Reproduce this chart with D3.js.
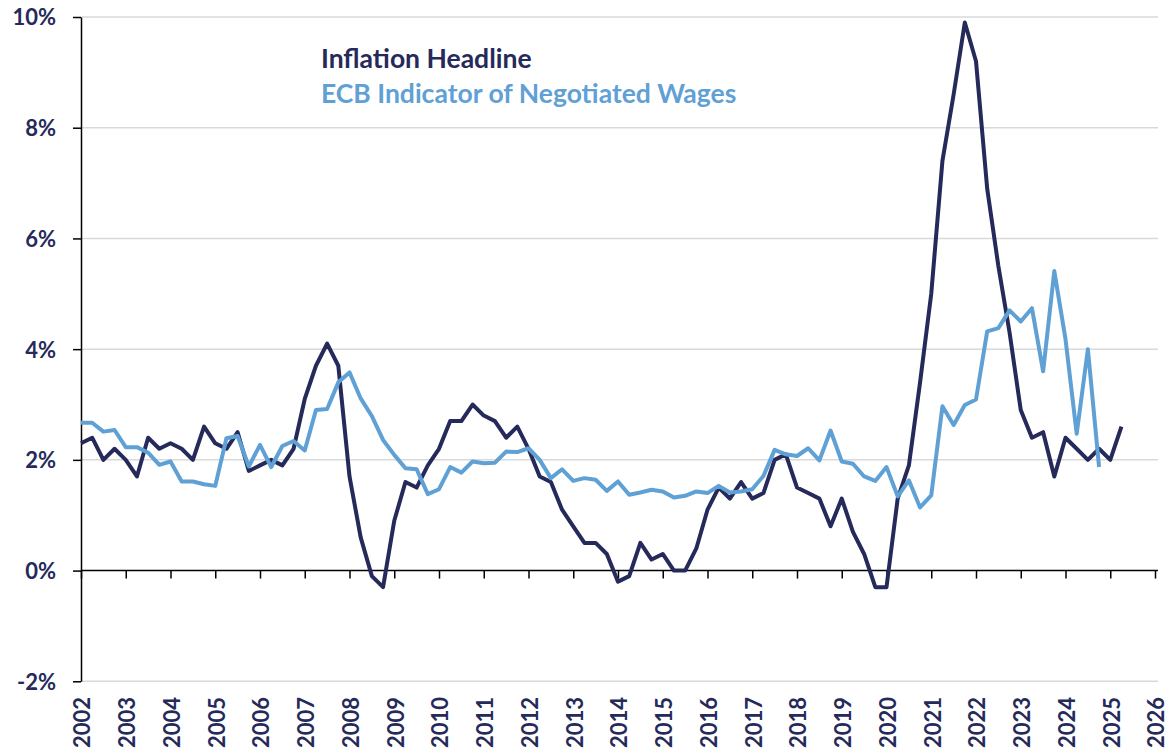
<!DOCTYPE html>
<html>
<head>
<meta charset="utf-8">
<script src="https://cdn.jsdelivr.net/npm/d3@7"></script>
<style>
    body { margin: 0; background: #fff; }
    svg { display: block; font-family: Lato, "Open Sans", sans-serif; font-weight: bold; }
</style>
</head>
<body>
<svg width="1168" height="749"></svg>
<script>
// quarterly observations, first point sits on the 2002 tick
const startYear = 2002;
const years = d3.range(2002, 2027);
const yTicks = [-2, 0, 2, 4, 6, 8, 10];

const inflation = [2.3, 2.4, 2.0, 2.2, 2.0, 1.7, 2.4, 2.2, 2.3, 2.2,
    2.0, 2.6, 2.3, 2.2, 2.5, 1.8, 1.9, 2.0, 1.9, 2.2,
    3.1, 3.7, 4.1, 3.7, 1.7, 0.6, -0.1, -0.3, 0.9, 1.6,
    1.5, 1.9, 2.2, 2.7, 2.7, 3.0, 2.8, 2.7, 2.4, 2.6,
    2.2, 1.7, 1.6, 1.1, 0.8, 0.5, 0.5, 0.3, -0.2, -0.1,
    0.5, 0.2, 0.3, 0.0, 0.0, 0.4, 1.1, 1.5, 1.3, 1.6,
    1.3, 1.4, 2.0, 2.1, 1.5, 1.4, 1.3, 0.8, 1.3, 0.7,
    0.3, -0.3, -0.3, 1.3, 1.9, 3.4, 5.0, 7.4, 8.6, 9.9,
    9.2, 6.9, 5.5, 4.3, 2.9, 2.4, 2.5, 1.7, 2.4, 2.2,
    2.0, 2.2, 2.0, 2.6];

const wages = [2.67, 2.67, 2.51, 2.54, 2.23, 2.23, 2.13, 1.91, 1.97, 1.61,
    1.61, 1.56, 1.53, 2.39, 2.43, 1.88, 2.27, 1.87, 2.25, 2.34,
    2.17, 2.90, 2.92, 3.40, 3.58, 3.11, 2.79, 2.36, 2.09, 1.85,
    1.83, 1.38, 1.47, 1.87, 1.77, 1.97, 1.94, 1.95, 2.15, 2.14,
    2.21, 2.00, 1.67, 1.83, 1.62, 1.67, 1.64, 1.44, 1.61, 1.37,
    1.41, 1.46, 1.43, 1.32, 1.35, 1.43, 1.40, 1.53, 1.41, 1.43,
    1.47, 1.71, 2.18, 2.10, 2.07, 2.21, 1.99, 2.53, 1.97, 1.93,
    1.70, 1.62, 1.87, 1.34, 1.63, 1.14, 1.36, 2.97, 2.63, 2.99,
    3.09, 4.32, 4.38, 4.70, 4.50, 4.74, 3.60, 5.41, 4.18, 2.47,
    4.00, 1.87];

const seriesNames = ["Inflation Headline", "ECB Indicator of Negotiated Wages"];
const navy = "#252a5a", blue = "#5fa0d5";

const svg = d3.select("svg");

const x = d3.scaleLinear().domain([2002, 2026]).range([81, 1155]);
const y = d3.scaleLinear().domain([-2, 10]).range([681.3, 17]);

// grid
svg.append("g")
    .selectAll("line")
    .data(yTicks.filter(function (d) { return d !== 0; }))
    .enter().append("line")
    .attr("x1", x(2002)).attr("x2", 1158)
    .attr("y1", function (d) { return y(d); })
    .attr("y2", function (d) { return y(d); })
    .attr("stroke", "#d9d9d9")
    .attr("stroke-width", 1.5);

// y axis
const yAxis = svg.append("g")
    .attr("transform", "translate(" + x(2002) + ",0)")
    .call(d3.axisLeft(y).tickValues(yTicks).tickSize(8).tickSizeOuter(0)
        .tickFormat(function (d) { return d + "%"; }));
yAxis.select(".domain").attr("stroke", "#000").attr("stroke-width", 1.5);
yAxis.selectAll(".tick line").attr("stroke", "#000").attr("stroke-width", 1.5);
yAxis.selectAll(".tick text")
    .attr("x", -25)
    .attr("dy", "0.36em")
    .attr("fill", navy)
    .style("font-size", "22px")
    .style("font-family", "Lato, sans-serif")
    .style("font-weight", "bold");

// x axis on the zero line
const xAxis = svg.append("g")
    .attr("transform", "translate(0," + y(0) + ")")
    .call(d3.axisBottom(x).tickValues(years).tickSize(8).tickSizeOuter(0).tickFormat(""));
xAxis.select(".domain").attr("stroke", "#000").attr("stroke-width", 1.5)
    .attr("d", "M" + x(2002) + ",0H1158");
xAxis.selectAll(".tick line").attr("stroke", "#000").attr("stroke-width", 1.5);

// year labels under the plot
svg.append("g")
    .selectAll("text")
    .data(years)
    .enter().append("text")
    .attr("transform", function (d) {
        return "translate(" + (x(d) + 1.5) + ",697) rotate(-90)";
    })
    .attr("text-anchor", "end")
    .attr("dy", "0.36em")
    .attr("fill", navy)
    .style("font-size", "22px")
    .text(function (d) { return d; });

const line = d3.line()
    .x(function (d, i) { return x(startYear + i / 4); })
    .y(function (d) { return y(d); });

svg.append("path")
    .datum(inflation)
    .attr("fill", "none")
    .attr("stroke", navy)
    .attr("stroke-width", 4)
    .attr("stroke-linejoin", "round")
    .attr("d", line);

svg.append("path")
    .datum(wages)
    .attr("fill", "none")
    .attr("stroke", blue)
    .attr("stroke-width", 4)
    .attr("stroke-linejoin", "round")
    .attr("d", line);

// legend
svg.append("g")
    .selectAll("text")
    .data(seriesNames)
    .enter().append("text")
    .attr("x", 321)
    .attr("y", function (d, i) { return 68 + i * 35; })
    .attr("fill", function (d, i) { return i === 0 ? navy : blue; })
    .style("font-size", "26.5px")
    .text(function (d) { return d; });
</script>
</body>
</html>
